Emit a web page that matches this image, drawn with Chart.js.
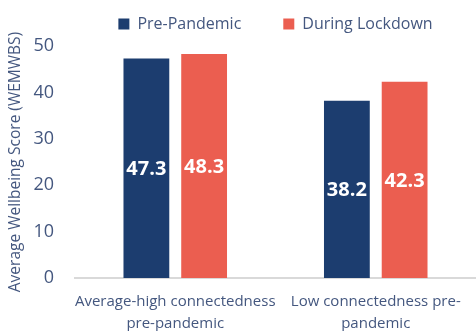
<!DOCTYPE html>
<html>
<head>
  <title>Average Wellbeing Score</title>
  <script src="https://cdn.jsdelivr.net/npm/chart.js"></script>
  <style>
    body {
      margin: 0;
      background-color: #fff;
    }

    .chart-container {
      width: 476px;
      height: 331px;
    }
  </style>
</head>
<body>
  <div class="chart-container">
    <canvas id="wellbeingChart"></canvas>
  </div>

  <script>
    const categories = [
      ['Average-high connectedness', 'pre-pandemic'],
      ['Low connectedness pre-', 'pandemic']
    ];
    const seriesNames = ['Pre-Pandemic', 'During Lockdown'];
    const prePandemic = [47.3, 38.2];
    const duringLockdown = [48.3, 42.3];
    const yTicks = [0, 10, 20, 30, 40, 50];

    const textColor = '#44577f';

    // Write each value in the middle of its bar
    const barValues = {
      id: 'barValues',
      afterDatasetsDraw(chart) {
        const ctx = chart.ctx;
        ctx.save();
        ctx.fillStyle = '#fff';
        ctx.font = 'bold 20px "Open Sans"';
        ctx.textAlign = 'center';
        ctx.textBaseline = 'middle';
        chart.data.datasets.forEach((ds, i) => {
          chart.getDatasetMeta(i).data.forEach((bar, j) => {
            const p = bar.getProps(['x', 'y', 'base'], true);
            ctx.fillText(ds.data[j].toFixed(1), p.x, (p.y + p.base) / 2 + 1);
          });
        });
        ctx.restore();
      }
    };

    // a bit more room under the legend
    const legendGap = {
      id: 'legendGap',
      afterInit(chart) {
        const fit = chart.legend.fit;
        chart.legend.fit = function () {
          fit.call(this);
          this.height += 4;
        };
      }
    };

    const ctx = document.getElementById('wellbeingChart').getContext('2d');
    new Chart(ctx, {
      type: 'bar',
      data: {
        labels: categories,
        datasets: [{
          label: seriesNames[0],
          data: prePandemic,
          backgroundColor: '#1c3d6f',
          categoryPercentage: 0.576,
          barPercentage: 0.793
        }, {
          label: seriesNames[1],
          data: duringLockdown,
          backgroundColor: '#eb5e50',
          categoryPercentage: 0.576,
          barPercentage: 0.793
        }]
      },
      plugins: [barValues, legendGap],
      options: {
        responsive: true,
        maintainAspectRatio: false,
        animation: false,
        layout: {
          padding: { top: -26, right: 0, left: 0, bottom: 0 }
        },
        plugins: {
          legend: {
            position: 'top',
            fullSize: false,
            labels: {
              boxWidth: 11,
              boxHeight: 11,
              padding: 42,
              color: textColor,
              font: { family: 'Open Sans', size: 16 }
            }
          },
          tooltip: { enabled: false }
        },
        scales: {
          x: {
            afterFit: scale => { scale.height = 53; },
            grid: { display: false, drawTicks: false },
            border: { color: '#d9d9d9', width: 2 },
            ticks: {
              color: textColor,
              padding: 13,
              maxRotation: 0,
              autoSkip: false,
              font: { family: 'Open Sans', size: 15, lineHeight: 1.45 }
            }
          },
          y: {
            min: 0,
            max: 50,
            afterFit: scale => { scale.width = 75; },
            afterBuildTicks: scale => { scale.ticks = yTicks.map(v => ({ value: v })); },
            grid: { display: false, drawTicks: false },
            border: { display: false },
            ticks: {
              color: textColor,
              padding: 21,
              font: { family: 'Open Sans', size: 18 }
            },
            title: {
              display: true,
              text: 'Average Wellbeing Score (WEMWBS)',
              color: textColor,
              padding: { top: 6, bottom: 0 },
              font: { family: 'Open Sans', size: 15.5 }
            }
          }
        }
      }
    });
  </script>
</body>
</html>
